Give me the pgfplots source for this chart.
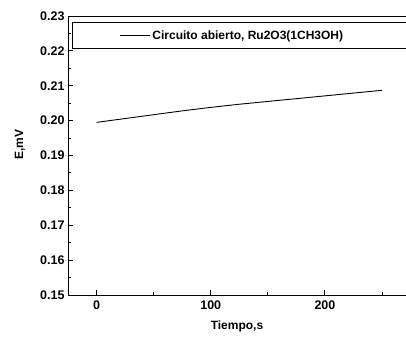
\documentclass[border=0pt]{standalone}
\usepackage{fontspec}
\setmainfont{Liberation Sans}
\usepackage{pgfplots}
\pgfplotsset{compat=1.18}
\begin{document}
\begin{tikzpicture}
\useasboundingbox (0,0) rectangle (406pt,340pt);
\begin{axis}[
  at={(68pt,45pt)}, anchor=south west,
  scale only axis, width=338pt, height=279pt,
  xmin=-25, xmax=271, ymin=0.15, ymax=0.23,
  axis x line*=bottom, axis y line*=left,
  axis line style={line width=1pt},
  xtick={0,100,200}, minor xtick={50,150,250},
  ytick={0.15,0.16,0.17,0.18,0.19,0.20,0.21,0.22,0.23},
  minor y tick num=1,
  tick align=inside,
  major tick length=5pt, minor tick length=3pt,
  tick style={line width=0.9pt, black},
  /pgf/number format/assume math mode=true,
  yticklabel style={/pgf/number format/.cd, fixed, fixed zerofill, precision=2},
  tick label style={font=\bfseries\fontsize{12.5}{14}\selectfont},
  xticklabel style={yshift=-2pt},
  xlabel={Tiempo,s},
  ylabel={E,mV},
  label style={font=\bfseries\fontsize{12}{14}\selectfont},
  xlabel style={at={(rel axis cs:0.5,0)}, anchor=center, yshift=-31pt},
  ylabel style={at={(rel axis cs:0,0.54)}, anchor=center, yshift=48pt},
  legend image code/.code={\draw[#1] (0pt,0pt) -- (30pt,0pt);},
  legend style={at={(rel axis cs:0.012,0.978)}, anchor=north west,
    draw=black, line width=1pt, inner xsep=47pt, inner ysep=6pt,
    font=\bfseries\fontsize{12}{14}\selectfont},
  clip=false,
]
\addplot[black, line width=0.9pt] coordinates {
  (0,0.1995) (25,0.2006) (50,0.2017) (75,0.2028) (100,0.2038)
  (125,0.2047) (150,0.2055) (175,0.2063) (200,0.2071) (225,0.2079) (250,0.2087)
};
\addlegendentry{\makebox[260pt][l]{Circuito abierto, Ru2O3(1CH3OH)}}
\draw[line width=0.8pt] (rel axis cs:0,1) -- (rel axis cs:1.1,1);
\end{axis}
\end{tikzpicture}
\end{document}
